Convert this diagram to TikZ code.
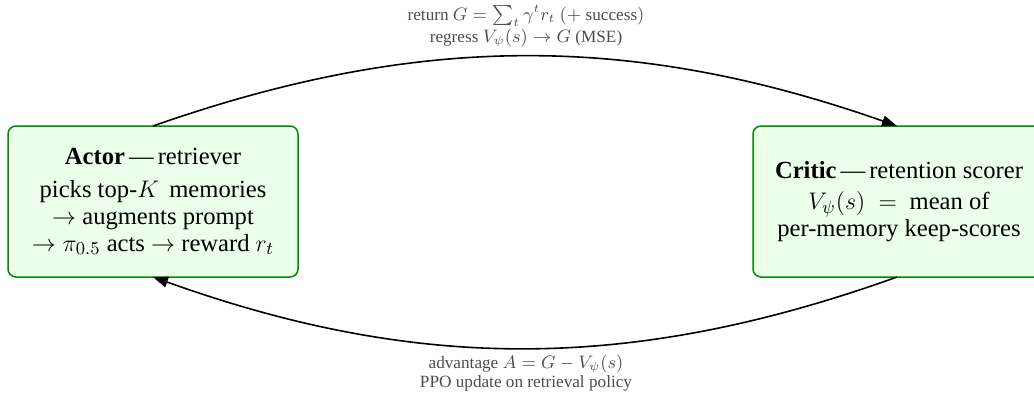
\documentclass[tikz,border=0pt]{standalone}
\usepackage{fontspec}
\setmainfont{Liberation Serif}
\usetikzlibrary{arrows.meta}
\begin{document}
\begin{tikzpicture}[x=0.5pt,y=-0.5pt,
  boxstyle/.style={draw=green!55!black, fill=green!8, line width=0.75pt, rounded corners=4pt,
    minimum height=75.5pt, align=center, font=\fontsize{12.3}{13.5}\selectfont, inner sep=2pt},
  arr/.style={line width=0.8pt, -{Triangle[length=7.5pt,width=5.5pt]}},
  lbl/.style={align=center, text=black!70, font=\fontsize{8.6}{9.2}\selectfont, inner sep=0pt}]
\useasboundingbox (0,0) rectangle (1034,396);
\node[boxstyle, minimum width=145pt] (A) at (153,201.5)
  {\textbf{Actor}\,---\,retriever\\[3pt]
   picks top-$K$\, memories\\
   $\rightarrow$ augments prompt\\
   $\rightarrow \pi_{0.5}$ acts $\rightarrow$ reward $r_t$};
\node[boxstyle, minimum width=146pt] (C) at (899,201.5)
  {\textbf{Critic}\,---\,retention scorer\\[2pt]
   $V_\psi(s)\;=\;$ mean of\\
   per-memory keep-scores};
\coordinate (As) at (153,126);
\coordinate (Ce) at (897,126);
\coordinate (Cs) at (897,277);
\coordinate (Ae) at (153,277);
\draw[arr] (As) .. controls (418,33) and (632,33) .. (Ce);
\draw[arr] (Cs) .. controls (632,372) and (418,372) .. (Ae);
\node[lbl] (T) at (526,26) {return $G=\sum_t \gamma^t r_t$ $(+$ success$)$\\ regress $V_\psi(s)\rightarrow G$ (MSE)};
\node[lbl] (B) at (526,373) {advantage $A=G-V_\psi(s)$\\ PPO update on retrieval policy};
\end{tikzpicture}
\end{document}
